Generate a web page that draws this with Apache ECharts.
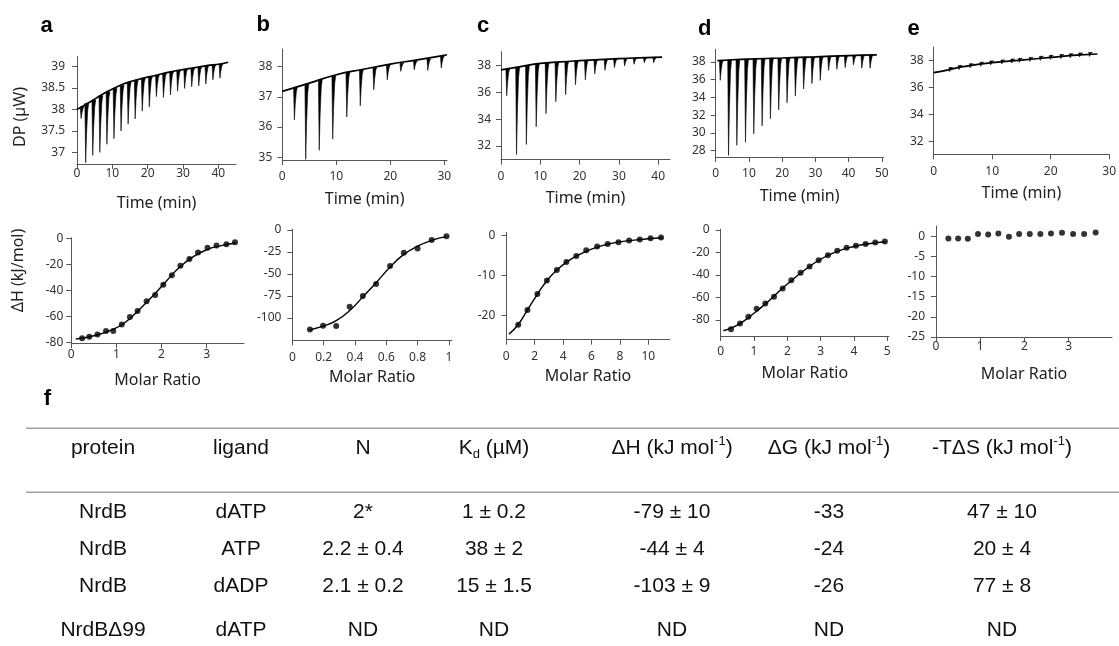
<!DOCTYPE html>
<html>
<head>
<meta charset="utf-8">
<script src="https://cdn.jsdelivr.net/npm/echarts@6/dist/echarts.min.js"></script>
<style>
  html, body { margin: 0; padding: 0; background: #fff; }
  #chart { width: 1119px; height: 646px; }
</style>
</head>
<body>
<div id="chart"></div>
<script>
// ---- raw thermograms: fitted baseline [time, DP] and injections (time, top, lowest DP) ----
var aBase = [[0, 38.0], [2.7, 38.13], [4.6, 38.22], [6.5, 38.32], [8.4, 38.41], [10.3, 38.49], [12.2, 38.56], [14, 38.62], [16, 38.67], [17.8, 38.71], [19.7, 38.75], [21.6, 38.78], [23.5, 38.82], [25.4, 38.86], [29.2, 38.92], [32.9, 38.97], [36.7, 39.02], [40.5, 39.06], [42.8, 39.1]];
var aInjTime = [1.1, 2.4, 4.4, 6.4, 8.4, 10.4, 12.4, 14.4, 16.4, 18.4, 20.4, 22.4, 24.4, 26.4, 28.4, 30.4, 32.4, 34.4, 36.4, 38.4, 40.4];
var aInjTop = [38.06, 38.14, 38.22, 38.32, 38.41, 38.49, 38.56, 38.63, 38.68, 38.72, 38.76, 38.8, 38.84, 38.88, 38.91, 38.94, 38.96, 38.99, 39.02, 39.04, 39.06];
var aInjMin = [37.79, 36.76, 36.93, 37.0, 37.19, 37.32, 37.5, 37.66, 37.78, 37.96, 38.06, 38.3, 38.28, 38.34, 38.43, 38.49, 38.53, 38.55, 38.59, 38.69, 38.73];

var bBase = [[0, 37.18], [5, 37.45], [10, 37.73], [15, 37.91], [20, 38.08], [25, 38.22], [30, 38.37], [30.5, 38.39]];
var bInjTime = [2.2, 4.3, 6.8, 9.3, 11.9, 14.4, 16.9, 19.4, 21.9, 24.4, 26.9, 29.4];
var bInjTop = [37.31, 37.42, 37.57, 37.7, 37.8, 37.89, 37.97, 38.04, 38.11, 38.18, 38.25, 38.34];
var bInjMin = [36.24, 34.93, 35.23, 35.6, 36.33, 36.7, 37.23, 37.56, 37.84, 37.89, 37.87, 37.95];

var cBase = [[0, 37.68], [5, 37.93], [10, 38.17], [15, 38.28], [20, 38.37], [25, 38.45], [30, 38.52], [35, 38.58], [41, 38.64]];
var cInjTime = [1.4, 3.9, 6.4, 8.9, 11.4, 13.9, 16.4, 18.9, 21.4, 23.8, 26.4, 28.8, 31.4, 33.8, 36.4, 38.8];
var cInjTop = [37.75, 37.87, 38.0, 38.12, 38.2, 38.26, 38.31, 38.35, 38.39, 38.42, 38.46, 38.5, 38.53, 38.56, 38.59, 38.62];
var cInjMin = [35.75, 31.36, 32.12, 33.43, 34.42, 35.31, 35.83, 36.57, 36.94, 37.38, 37.65, 37.85, 37.98, 38.1, 38.22, 38.22];

var dBase = [[0.5, 38.15], [5, 38.25], [10, 38.33], [20, 38.45], [30, 38.58], [40, 38.72], [48.5, 38.8]];
var dInjTime = [1.3, 3.8, 6.3, 8.9, 11.4, 13.9, 16.4, 18.9, 21.4, 23.9, 26.4, 28.9, 31.4, 33.9, 36.4, 38.9, 41.4, 43.9, 46.4];
var dInjTop = [38.17, 38.22, 38.27, 38.31, 38.36, 38.39, 38.42, 38.44, 38.48, 38.51, 38.54, 38.57, 38.6, 38.64, 38.67, 38.71, 38.74, 38.76, 38.78];
var dInjMin = [35.93, 27.48, 28.6, 28.96, 29.9, 30.8, 31.6, 32.6, 33.4, 34.15, 34.96, 35.56, 35.93, 37.04, 37.19, 37.37, 37.67, 37.3, 37.3];

var eBase = [[0, 37.09], [2.5, 37.3], [5, 37.53], [10, 37.83], [15, 38.02], [20, 38.22], [25, 38.4], [28, 38.47]];
var eInjTime = [2.7, 4.3, 6.2, 8.0, 9.7, 11.6, 13.3, 14.6, 16.4, 18.2, 19.9, 21.7, 23.3, 24.9, 26.6];
var eInjTop = [37.47, 37.62, 37.75, 37.86, 37.96, 38.03, 38.1, 38.15, 38.22, 38.3, 38.37, 38.43, 38.49, 38.55, 38.59];
var eInjMin = [37.17, 37.32, 37.45, 37.56, 37.66, 37.73, 37.8, 37.85, 37.92, 38.0, 38.07, 38.13, 38.19, 38.25, 38.29];

// ---- integrated heats: molar ratio, ΔH (kJ/mol), fitted curve ----
var aRatio = [0.24, 0.4, 0.58, 0.77, 0.93, 1.12, 1.3, 1.47, 1.67, 1.86, 2.04, 2.23, 2.42, 2.62, 2.81, 3.02, 3.22, 3.44, 3.63];
var aHeat = [-76.9, -75.8, -74, -71.2, -71.2, -66.2, -60.5, -55.8, -48.3, -43.4, -35.6, -28.3, -20.8, -15.6, -10.6, -7, -5.2, -4.2, -2.8];
var aFit = [[0.1, -77.5], [0.5, -75], [0.9, -70.5], [1.2, -64.5], [1.5, -55], [1.8, -44.5], [2.1, -33], [2.4, -22], [2.7, -14], [3.0, -8.5], [3.3, -5.5], [3.65, -3.3]];

var bRatio = [0.112, 0.196, 0.28, 0.366, 0.45, 0.535, 0.624, 0.712, 0.8, 0.89, 0.985];
var bHeat = [-112.9, -108.7, -109.1, -87.1, -75, -61.4, -40.9, -25.8, -21.2, -11.4, -7.2];
var bFit = [[0.11, -113.6], [0.2, -109], [0.28, -103], [0.37, -91], [0.45, -76], [0.535, -60], [0.62, -43], [0.71, -28], [0.8, -18.5], [0.89, -11.8], [0.985, -7.6]];

var cRatio = [0.84, 1.49, 2.19, 2.86, 3.56, 4.23, 4.93, 5.63, 6.4, 7.14, 7.9, 8.65, 9.4, 10.16, 10.9];
var cHeat = [-22.25, -18.6, -14.6, -11.2, -8.6, -6.6, -5.1, -3.7, -2.75, -2.1, -1.67, -1.25, -1.0, -0.67, -0.5];
var cFit = [[0.19, -24.6], [0.84, -22.2], [1.5, -18.5], [2.2, -14.6], [2.9, -11.1], [3.6, -8.5], [4.3, -6.5], [5, -5], [6, -3.4], [7, -2.3], [8, -1.6], [9, -1.15], [10, -0.8], [11, -0.55]];

var dRatio = [0.31, 0.58, 0.83, 1.08, 1.34, 1.6, 1.86, 2.12, 2.4, 2.67, 2.94, 3.22, 3.5, 3.78, 4.06, 4.35, 4.64, 4.93];
var dHeat = [-88.2, -83.2, -77.1, -70, -65.3, -59.4, -52, -44.7, -37.9, -32.4, -26.8, -22.4, -18.5, -15.9, -14.1, -12.4, -11.2, -10.3];
var dFit = [[0.08, -89.5], [0.5, -84.5], [1.0, -74], [1.5, -61.5], [2.0, -48], [2.5, -36], [3.0, -26], [3.5, -19], [4.0, -14.7], [4.5, -12], [4.95, -10.5]];

var eRatio = [0.28, 0.5, 0.72, 0.95, 1.18, 1.41, 1.65, 1.88, 2.12, 2.36, 2.6, 2.85, 3.1, 3.35, 3.61];
var eHeat = [-0.57, -0.57, -0.66, 0.49, 0.41, 0.66, -0.16, 0.49, 0.49, 0.49, 0.66, 0.82, 0.49, 0.49, 0.9];

// ---- table f ----
var tableHead = ['protein', 'ligand', 'N', 'K{sub|d} (µM)', 'ΔH (kJ mol{sup|-1})', 'ΔG (kJ mol{sup|-1})', '-TΔS (kJ mol{sup|-1})'];
var protein = ['NrdB', 'NrdB', 'NrdB', 'NrdBΔ99'];
var ligand = ['dATP', 'ATP', 'dADP', 'dATP'];
var nSites = ['2*', '2.2 ± 0.4', '2.1 ± 0.2', 'ND'];
var kd = ['1 ± 0.2', '38 ± 2', '15 ± 1.5', 'ND'];
var dH = ['-79 ± 10', '-44 ± 4', '-103 ± 9', 'ND'];
var dG = ['-33', '-24', '-26', 'ND'];
var tdS = ['47 ± 10', '20 ± 4', '77 ± 8', 'ND'];

var FONT = 'Noto Sans';
var TFONT = 'Liberation Sans';

var thermo = [
  {base: aBase, time: aInjTime, top: aInjTop, low: aInjMin, ymin: 36.73, ymax: 39.23, xmax: 45, yt: [37, 37.5, 38, 38.5, 39], xt: [0, 10, 20, 30, 40], g: [77, 56.7, 159, 107.3], xm: 4, ym: 12},
  {base: bBase, time: bInjTime, top: bInjTop, low: bInjMin, ymin: 34.91, ymax: 38.58, xmax: 30.5, yt: [35, 36, 37, 38], xt: [0, 10, 20, 30], g: [282.3, 49, 164.7, 111], xm: 11, ym: 10},
  {base: cBase, time: cInjTime, top: cInjTop, low: cInjMin, ymin: 30.98, ymax: 39.04, xmax: 43, yt: [32, 34, 36, 38], xt: [0, 10, 20, 30, 40], g: [501, 51.7, 169, 108], xm: 11, ym: 10},
  {base: dBase, time: dInjTime, top: dInjTop, low: dInjMin, ymin: 27.29, ymax: 39.43, xmax: 50.5, yt: [28, 30, 32, 34, 36, 38], xt: [0, 10, 20, 30, 40, 50], g: [715.7, 49.3, 167.8, 107.7], xm: 11, ym: 10},
  {base: eBase, time: eInjTime, top: eInjTop, low: eInjMin, ymin: 31.04, ymax: 38.99, xmax: 30, yt: [32, 34, 36, 38], xt: [0, 10, 20, 30], g: [933.7, 47, 177.5, 107.3], xm: 11, ym: 10}
];

var heats = [
  {x: aRatio, y: aHeat, fit: aFit, ymin: -80.8, ymax: 0.8, xmax: 3.83, yt: [-80, -60, -40, -20, 0], xt: [0, 1, 2, 3], g: [71.3, 237.7, 172.7, 105.6], xm: 5, ym: 8},
  {x: bRatio, y: bHeat, fit: bFit, ymin: -125.3, ymax: 0.7, xmax: 1.02, yt: [-100, -75, -50, -25, 0], xt: [0, 0.2, 0.4, 0.6, 0.8, 1], g: [292.4, 229.3, 159.6, 111], xm: 11, ym: 11},
  {x: cRatio, y: cHeat, fit: cFit, ymin: -26, ymax: 0.8, xmax: 11.5, yt: [-20, -10, 0], xt: [0, 2, 4, 6, 8, 10], g: [506.3, 232.3, 163.3, 107.4], xm: 11, ym: 11},
  {x: dRatio, y: dHeat, fit: dFit, ymin: -94.2, ymax: 0.6, xmax: 5.05, yt: [-80, -60, -40, -20, 0], xt: [0, 1, 2, 3, 4, 5], g: [720.7, 229.3, 168.2, 106.7], xm: 10, ym: 11},
  {x: eRatio, y: eHeat, fit: null, ymin: -25, ymax: 2.5, xmax: 3.98, yt: [-25, -20, -15, -10, -5, 0], xt: [0, 1, 2, 3], g: [936, 226, 176, 111], xm: 4, ym: 11}
];

var grids = [], xAxes = [], yAxes = [], series = [];

function addPanel(p, xName, nameGap) {
  var i = grids.length;
  grids.push({left: p.g[0], top: p.g[1], width: p.g[2], height: p.g[3]});
  xAxes.push({
    type: 'value', gridIndex: i, min: 0, max: p.xmax,
    axisLine: {show: true, onZero: false, lineStyle: {color: '#555', width: 1}},
    axisTick: {show: true, length: 5, customValues: p.xt, lineStyle: {color: '#555'}},
    axisLabel: {customValues: p.xt, margin: p.xm, color: '#333', fontSize: 12, fontFamily: FONT},
    splitLine: {show: false},
    name: xName, nameLocation: 'middle', nameGap: nameGap,
    nameTextStyle: {color: '#222', fontSize: 16, fontFamily: FONT}
  });
  yAxes.push({
    type: 'value', gridIndex: i, min: p.ymin, max: p.ymax,
    axisLine: {show: true, onZero: false, lineStyle: {color: '#555', width: 1}},
    axisTick: {show: true, length: 5, customValues: p.yt, lineStyle: {color: '#555'}},
    axisLabel: {customValues: p.yt, margin: p.ym, color: '#333', fontSize: 12, fontFamily: FONT},
    splitLine: {show: false}
  });
  return i;
}

// narrow injection spike: sharp drop, curved return
function renderSpike(params, api) {
  var t = api.coord([api.value(0), api.value(1)]);
  var b = api.coord([api.value(0), api.value(2)]);
  var h = b[1] - t[1];
  return {
    type: 'polygon',
    shape: {points: [[t[0] - 0.6, t[1]], [t[0] + 0.2, b[1]], [t[0] + 1.1, b[1] - 0.5 * h], [t[0] + 2.2, t[1] + 0.12 * h], [t[0] + 3.2, t[1]]]},
    style: {fill: '#000', stroke: '#000', lineWidth: 0.6}
  };
}

thermo.forEach(function (p) {
  var i = addPanel(p, 'Time (min)', 31);
  series.push({
    type: 'custom', xAxisIndex: i, yAxisIndex: i, renderItem: renderSpike, silent: true,
    encode: {x: 0, y: [1, 2]},
    data: p.time.map(function (t, k) { return [t, p.top[k], p.low[k]]; })
  });
  series.push({
    type: 'line', xAxisIndex: i, yAxisIndex: i, data: p.base, smooth: true,
    symbol: 'none', silent: true, lineStyle: {color: '#000', width: 1.7}
  });
});

heats.forEach(function (p) {
  var i = addPanel(p, 'Molar Ratio', 29);
  if (p.fit) {
    series.push({
      type: 'line', xAxisIndex: i, yAxisIndex: i, data: p.fit, smooth: true,
      symbol: 'none', silent: true, lineStyle: {color: '#000', width: 1.4}
    });
  }
  series.push({
    type: 'scatter', xAxisIndex: i, yAxisIndex: i, symbolSize: 6, silent: true,
    itemStyle: {color: '#000'},
    data: p.x.map(function (x, k) { return [x, p.y[k]]; })
  });
});

// letters, rotated axis titles and the table
var graphics = [];
[['a', 46.5, 25.7], ['b', 263.3, 25.4], ['c', 483, 26.4], ['d', 704.7, 29], ['e', 913.5, 29], ['f', 47.5, 399]].forEach(function (l) {
  graphics.push({type: 'text', x: l[1], y: l[2], style: {text: l[0], font: 'bold 22px "' + TFONT + '"', fill: '#000', align: 'center', verticalAlign: 'middle'}});
});
[['DP (µW)', 20, 117], ['ΔH (kJ/mol)', 18.5, 270.5]].forEach(function (l) {
  graphics.push({type: 'text', x: l[1], y: l[2], rotation: Math.PI / 2, style: {text: l[0], font: '16px "' + FONT + '"', fill: '#222', align: 'center', verticalAlign: 'middle'}});
});

var colX = [103, 241, 363, 494, 672, 829, 1002];
var headY = 448;
var rowY = [512, 549, 586, 630];
var cellRich = {
  sub: {fontSize: 13, fontFamily: TFONT, fill: '#111', verticalAlign: 'bottom', lineHeight: 13},
  sup: {fontSize: 13, fontFamily: TFONT, fill: '#111', verticalAlign: 'top', lineHeight: 18}
};
function cell(txt, x, y) {
  graphics.push({type: 'text', x: x, y: y, style: {
    text: txt, fontSize: 21, fontFamily: TFONT, fill: '#111', lineHeight: 26,
    align: 'center', verticalAlign: 'middle', rich: cellRich
  }});
}
graphics.push({type: 'line', shape: {x1: 26, y1: 428.3, x2: 1119, y2: 428.3}, style: {stroke: '#a0a0a0', lineWidth: 1.5}});
graphics.push({type: 'line', shape: {x1: 26, y1: 492.3, x2: 1119, y2: 492.3}, style: {stroke: '#a0a0a0', lineWidth: 1.5}});
tableHead.forEach(function (h, c) { cell(h, colX[c], headY); });
[protein, ligand, nSites, kd, dH, dG, tdS].forEach(function (col, c) {
  col.forEach(function (v, r) { cell(v, colX[c], rowY[r]); });
});

var myChart = echarts.init(document.getElementById('chart'));
myChart.setOption({
  animation: false,
  backgroundColor: '#fff',
  grid: grids,
  xAxis: xAxes,
  yAxis: yAxes,
  series: series,
  graphic: graphics
});
</script>
</body>
</html>
